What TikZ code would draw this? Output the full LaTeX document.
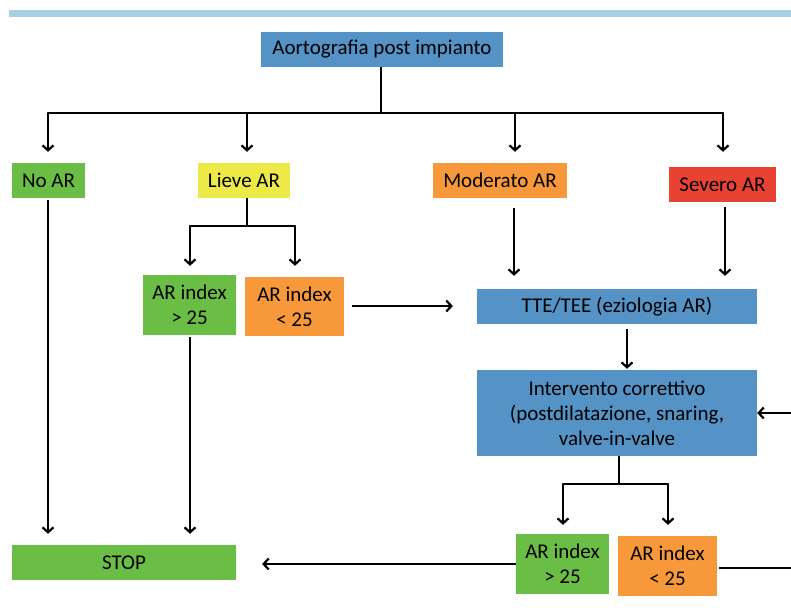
\documentclass[tikz,border=0pt]{standalone}
\usepackage{fontspec}
\setmainfont{Carlito}
\usepackage{tikz}
\usetikzlibrary{arrows.meta, positioning, calc}

\definecolor{cblue}{HTML}{5592C6}
\definecolor{cgreen}{HTML}{6ABD45}
\definecolor{cyellow}{HTML}{EDEA48}
\definecolor{corange}{HTML}{F7993A}
\definecolor{cred}{HTML}{E84233}
\definecolor{cbar}{HTML}{A8CFE4}

\begin{document}
\begin{tikzpicture}[
    x=1pt, y=-1pt,
    box/.style={rectangle, inner sep=0pt, align=center,
        font=\fontsize{21}{25}\selectfont},
    arr/.style={line width=2.2pt, -{Straight Barb[length=5pt, width=11pt]}},
    ln/.style={line width=2.2pt}
]
    \useasboundingbox (0,0) rectangle (791,607);
    \fill[cbar] (9,10) rectangle (791,17);

    % livello 1
    \node[box, fill=cblue, minimum width=242, minimum height=35] (top) at (382,49.5) {Aortografia post impianto};

    % livello 2: grado di AR
    \node[box, fill=cgreen, minimum width=73, minimum height=35] (noar) at (48.5,180.5) {No AR};
    \node[box, fill=cyellow, minimum width=92, minimum height=35] (lieve) at (244,180.5) {Lieve AR};
    \node[box, fill=corange, minimum width=134, minimum height=35] (moderato) at (500,180.5) {Moderato AR};
    \node[box, fill=cred, minimum width=107, minimum height=35] (severo) at (722.5,184.5) {Severo AR};

    % AR index dopo lieve AR
    \node[box, fill=cgreen, minimum width=93, minimum height=60] (ok1) at (189.5,305) {AR index\\> 25};
    \node[box, fill=corange, minimum width=99, minimum height=59] (ko1) at (294.5,306.5) {AR index\\< 25};

    % ecocardiografia e intervento
    \node[box, fill=cblue, minimum width=280, minimum height=35] (tte) at (617,306.5) {TTE/TEE (eziologia AR)};
    \node[box, fill=cblue, minimum width=280, minimum height=86] (interv) at (617,413) {Intervento correttivo\\(postdilatazione, snaring,\\valve-in-valve};

    % AR index dopo intervento
    \node[box, fill=cgreen, minimum width=93, minimum height=60] (ok2) at (562.5,564) {AR index\\> 25};
    \node[box, fill=corange, minimum width=99, minimum height=60] (ko2) at (667.5,566) {AR index\\< 25};

    \node[box, fill=cgreen, minimum width=224, minimum height=35] (stop) at (124,562.5) {STOP};

    % connettori dall'aortografia
    \coordinate (b1) at (48,113);
    \coordinate (b2) at (247,113);
    \coordinate (b3) at (515,113);
    \coordinate (b4) at (723,113);
    \draw[ln] (top.south -| 381,0) -- (381,113);
    \draw[ln, line cap=round] (b1) -- (b4);
    \draw[arr, shorten >=11pt] (b1) -- (b1 |- noar.north);
    \draw[arr, shorten >=11pt] (b2) -- (b2 |- lieve.north);
    \draw[arr, shorten >=11pt] (b3) -- (b3 |- moderato.north);
    \draw[arr, shorten >=15pt] (b4) -- (b4 |- severo.north);

    % lieve AR
    \coordinate (l1) at (190,226);
    \coordinate (l2) at (295,226);
    \draw[ln] (lieve.south -| 247,0) -- (247,226);
    \draw[ln, line cap=round] (l1) -- (l2);
    \draw[arr, shorten >=9pt] (l1) -- (l1 |- ok1.north);
    \draw[arr, shorten >=11pt] (l2) -- (l2 |- ko1.north);
    \draw[arr, shorten <=8pt, shorten >=24pt] (ko1.east |- 0,306) -- (tte.west |- 0,306);

    % moderato e severo
    \draw[arr, shorten <=10pt, shorten >=13pt] (moderato.south -| 514,0) -- (tte.north -| 514,0);
    \draw[arr, shorten <=5pt, shorten >=13pt] (severo.south -| 725,0) -- (tte.north -| 725,0);
    \draw[arr, shorten <=5pt, shorten >=1pt] (tte.south -| 627,0) -- (interv.north -| 627,0);

    % dopo intervento
    \coordinate (i1) at (563,484);
    \coordinate (i2) at (668,484);
    \draw[ln] (interv.south -| 619,0) -- (619,484);
    \draw[ln, line cap=round] (i1) -- (i2);
    \draw[arr, shorten >=9pt] (i1) -- (i1 |- ok2.north);
    \draw[arr, shorten >=11pt] (i2) -- (i2 |- ko2.north);

    % ritorno
    \coordinate (edgeA) at (791,413);
    \coordinate (edgeB) at (791,568);
    \draw[ln, shorten <=2pt] (ko2.east |- edgeB) -- (edgeB);
    \draw[arr] (edgeA) -- (interv.east);

    % verso STOP
    \draw[arr, shorten >=26pt] (ok2.west) -- (stop.east |- ok2.west);
    \draw[arr, shorten <=2pt, shorten >=11pt] (noar.south -| 48,0) -- (stop.north -| 48,0);
    \draw[arr, shorten <=2pt, shorten >=11pt] (ok1.south -| 190,0) -- (stop.north -| 190,0);
\end{tikzpicture}
\end{document}
